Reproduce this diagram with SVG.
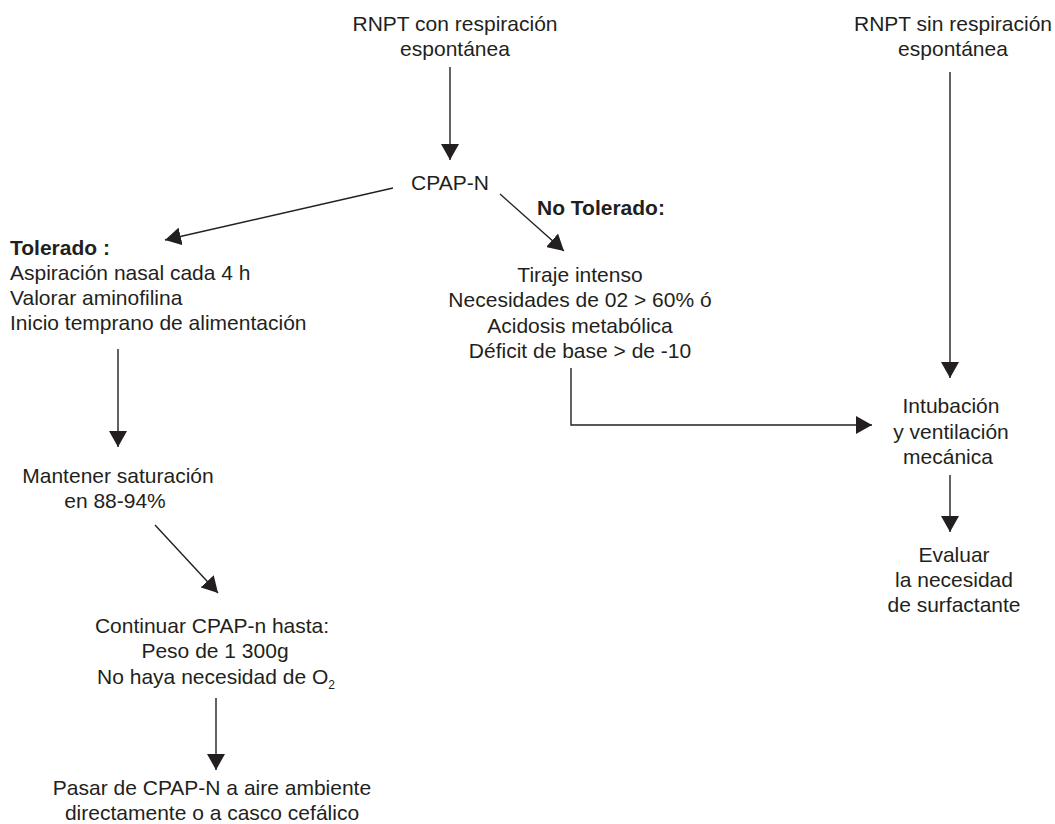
<svg xmlns="http://www.w3.org/2000/svg" width="1055" height="824" viewBox="0 0 1055 824">
  <style>
    text { font-family: "Liberation Sans", Arial, Helvetica, sans-serif; font-size: 21px; fill: #231f20; }
    .c { text-anchor: middle; }
    .b { font-weight: bold; }
    .conn { fill: none; stroke: #231f20; stroke-width: 1.4; }
  </style>
  <defs>
    <marker id="arr" markerUnits="userSpaceOnUse" markerWidth="18" markerHeight="18" refX="16" refY="9" orient="auto" viewBox="0 0 18 18">
      <path d="M0,0 L16,9 L0,18 Z" fill="#231f20"/>
    </marker>
  </defs>
  <rect width="1055" height="824" fill="#ffffff"/>

  <g id="connectors" class="conn" marker-end="url(#arr)">
    <path d="M450,67 L450,160"/>
    <path d="M393,188 L165,240"/>
    <path d="M500,194 L564,251"/>
    <path d="M571,368 L571,425 L872,425"/>
    <path d="M950,72 L950,378"/>
    <path d="M950,475 L950,532"/>
    <path d="M118,349 L118,447"/>
    <path d="M155,525 L218,593"/>
    <path d="M216,698 L216,770"/>
  </g>

  <g id="n_con">
    <text class="c" x="455" y="31">RNPT con respiración</text>
    <text class="c" x="455" y="56">espontánea</text>
  </g>
  <g id="n_sin">
    <text class="c" x="953" y="31">RNPT sin respiración</text>
    <text class="c" x="953" y="56">espontánea</text>
  </g>
  <g id="n_cpap">
    <text class="c" x="450" y="190">CPAP-N</text>
  </g>
  <g id="n_tolerado">
    <text class="b" x="10" y="255">Tolerado :</text>
    <text x="10" y="280">Aspiración nasal cada 4 h</text>
    <text x="10" y="305">Valorar aminofilina</text>
    <text x="10" y="330">Inicio temprano de alimentación</text>
  </g>
  <g id="n_notolerado">
    <text class="b" x="537" y="215">No Tolerado:</text>
    <text class="c" x="580" y="282">Tiraje intenso</text>
    <text class="c" x="580" y="307">Necesidades de 02 &gt; 60% ó</text>
    <text class="c" x="580" y="333">Acidosis metabólica</text>
    <text class="c" x="580" y="358">Déficit de base &gt; de -10</text>
  </g>
  <g id="n_intubacion">
    <text class="c" x="951" y="413">Intubación</text>
    <text class="c" x="951" y="439">y ventilación</text>
    <text class="c" x="948" y="464">mecánica</text>
  </g>
  <g id="n_evaluar">
    <text class="c" x="954" y="562">Evaluar</text>
    <text class="c" x="954" y="587">la necesidad</text>
    <text class="c" x="954" y="612">de surfactante</text>
  </g>
  <g id="n_mantener">
    <text class="c" x="118" y="483">Mantener saturación</text>
    <text class="c" x="115" y="508">en 88-94%</text>
  </g>
  <g id="n_continuar">
    <text class="c" x="212" y="633">Continuar CPAP-n hasta:</text>
    <text class="c" x="215" y="658">Peso de 1 300g</text>
    <text class="c" x="216" y="684">No haya necesidad de O<tspan font-size="12" dy="5">2</tspan></text>
  </g>
  <g id="n_pasar">
    <text class="c" x="212" y="795">Pasar de CPAP-N a aire ambiente</text>
    <text class="c" x="212" y="820">directamente o a casco cefálico</text>
  </g>
</svg>
